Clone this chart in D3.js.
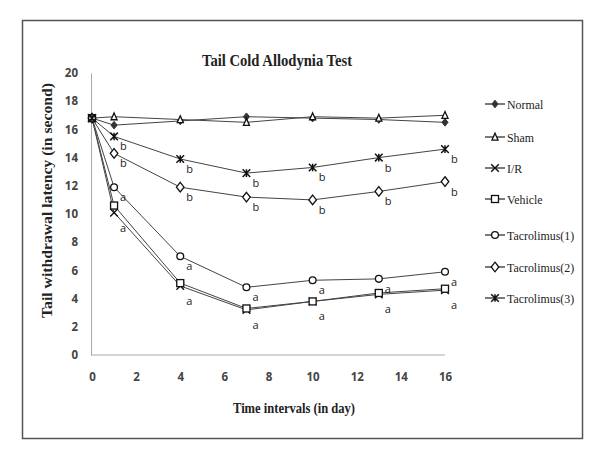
<!DOCTYPE html>
<html><head><meta charset="utf-8">
<script src="https://cdn.jsdelivr.net/npm/d3@7"></script>
<style>body{margin:0;background:#fff}svg{display:block}</style>
</head><body>
<svg id="c" width="600" height="467"></svg>
<script>
const days = [0, 1, 4, 7, 10, 13, 16];
const xTicks = [0, 2, 4, 6, 8, 10, 12, 14, 16];
const yTicks = [0, 2, 4, 6, 8, 10, 12, 14, 16, 18, 20];
const seriesNames = ["Normal", "Sham", "I/R", "Vehicle", "Tacrolimus(1)", "Tacrolimus(2)", "Tacrolimus(3)"];
const normal = [16.8, 16.3, 16.6, 16.9, 16.8, 16.7, 16.5];
const sham = [16.8, 16.9, 16.7, 16.5, 16.9, 16.8, 17.0];
const ir = [16.8, 10.1, 4.9, 3.2, 3.8, 4.3, 4.6];
const vehicle = [16.8, 10.6, 5.1, 3.3, 3.8, 4.4, 4.7];
const tac1 = [16.8, 11.9, 7.0, 4.8, 5.3, 5.4, 5.9];
const tac2 = [16.8, 14.3, 11.9, 11.2, 11.0, 11.6, 12.3];
const tac3 = [16.8, 15.5, 13.9, 12.9, 13.3, 14.0, 14.6];
const markers = ["fdiamond", "triangle", "x", "square", "circle", "diamond", "asterisk"];
const sigLetters = [null, null, "a", null, "a", "b", "b"];
const allValues = [normal, sham, ir, vehicle, tac1, tac2, tac3];

const svg = d3.select("#c");
const stroke = "#333";
svg.append("rect").attr("x", 22.5).attr("y", 20.5).attr("width", 560).attr("height", 418)
  .attr("fill", "none").attr("stroke", "#555").attr("stroke-width", 1.5);

const x = d3.scaleLinear().domain([0, 16]).range([92, 445]);
const y = d3.scaleLinear().domain([0, 20]).range([355, 73]);

const xAxis = svg.append("g").attr("transform", "translate(0,355)")
  .call(d3.axisBottom(x).tickValues(xTicks).tickSize(0).tickPadding(18));
xAxis.select(".domain").attr("stroke", "#aaa").attr("d", `M${x(0)-1},0H${x(16)}`);
xAxis.selectAll("text").attr("font-family", "Open Sans, sans-serif").attr("font-size", 11.5)
  .attr("font-weight", "bold").attr("fill", "#444");

const yAxis = svg.append("g").attr("transform", "translate(91,0)")
  .call(d3.axisLeft(y).tickValues(yTicks).tickSize(0).tickPadding(13));
yAxis.select(".domain").attr("stroke", "#aaa");
yAxis.selectAll("text").attr("font-family", "Open Sans, sans-serif").attr("font-size", 11.5)
  .attr("font-weight", "bold").attr("fill", "#444");

svg.append("text").attr("x", 202).attr("y", 66)
  .attr("font-family", "Liberation Serif, serif").attr("font-weight", "bold").attr("font-size", 17)
  .attr("textLength", 150).attr("lengthAdjust", "spacingAndGlyphs")
  .attr("fill", "#222").text("Tail Cold Allodynia Test");
svg.append("text").attr("x", 233).attr("y", 413)
  .attr("font-family", "Liberation Serif, serif").attr("font-weight", "bold").attr("font-size", 14)
  .attr("textLength", 122).attr("lengthAdjust", "spacingAndGlyphs")
  .attr("fill", "#222").text("Time intervals (in day)");
svg.append("text").attr("transform", "translate(52,318) rotate(-90)")
  .attr("font-family", "Liberation Serif, serif").attr("font-weight", "bold").attr("font-size", 15)
  .attr("textLength", 235).attr("lengthAdjust", "spacingAndGlyphs")
  .attr("fill", "#222").text("Tail withdrawal latency (in second)");

function drawMarker(g, type, cx, cy) {
  const s = 3.8;
  if (type === "fdiamond") {
    g.append("path").attr("d", `M${cx},${cy-s}L${cx+s*0.8},${cy}L${cx},${cy+s}L${cx-s*0.8},${cy}Z`).attr("fill", stroke).attr("stroke", stroke);
  } else if (type === "diamond") {
    g.append("path").attr("d", `M${cx},${cy-s-1}L${cx+s},${cy}L${cx},${cy+s+1}L${cx-s},${cy}Z`).attr("fill", "#fff").attr("stroke", "#111").attr("stroke-width", 1.3);
  } else if (type === "triangle") {
    g.append("path").attr("d", `M${cx},${cy-s}L${cx+s*0.8},${cy+s*0.8}L${cx-s*0.8},${cy+s*0.8}Z`).attr("fill", "#fff").attr("stroke", "#111").attr("stroke-width", 1.3);
  } else if (type === "square") {
    g.append("rect").attr("x", cx-3.5).attr("y", cy-3.5).attr("width", 7).attr("height", 7).attr("fill", "#fff").attr("stroke", "#111").attr("stroke-width", 1.3);
  } else if (type === "circle") {
    g.append("circle").attr("cx", cx).attr("cy", cy).attr("r", 3.4).attr("fill", "#fff").attr("stroke", "#111").attr("stroke-width", 1.3);
  } else if (type === "x") {
    g.append("path").attr("d", `M${cx-s},${cy-s}L${cx+s},${cy+s}M${cx-s},${cy+s}L${cx+s},${cy-s}`).attr("stroke", "#111").attr("stroke-width", 1.4);
  } else if (type === "asterisk") {
    g.append("path").attr("d", `M${cx-s},${cy-s}L${cx+s},${cy+s}M${cx-s},${cy+s}L${cx+s},${cy-s}M${cx},${cy-s}L${cx},${cy+s}`).attr("stroke", "#111").attr("stroke-width", 1.5);
  }
}

const line = d3.line().x((d, i) => x(days[i])).y(d => y(d));
const plot = svg.append("g");
allValues.forEach((vals) => {
  plot.append("path").datum(vals).attr("d", line).attr("fill", "none").attr("stroke", "#444").attr("stroke-width", 1);
});
allValues.forEach((vals, k) => {
  const g = plot.append("g");
  vals.forEach((v, i) => drawMarker(g, markers[k], x(days[i]), y(v)));
});
allValues.forEach((vals, k) => {
  const L = sigLetters[k];
  if (!L) return;
  vals.forEach((v, i) => {
    if (i === 0) return;
    plot.append("text").attr("x", x(days[i]) + 6).attr("y", y(v) + (k === 2 ? 19 : 14))
      .attr("font-family", "Open Sans, sans-serif").attr("font-size", 11).attr("fill", "#222").text(L);
  });
});

const legY = [104, 137, 168, 199, 235, 267, 298];
seriesNames.forEach((n, k) => {
  const g = svg.append("g");
  g.append("line").attr("x1", 485).attr("x2", 505).attr("y1", legY[k]).attr("y2", legY[k]).attr("stroke", "#222").attr("stroke-width", 1.2);
  drawMarker(g, markers[k], 495, legY[k]);
  const t = g.append("text").attr("x", 507).attr("y", legY[k] + 4.5).attr("font-family", "Liberation Serif, serif")
    .attr("font-size", 13.5).attr("fill", "#222").text(n);
  const w = t.node().getComputedTextLength();
  t.attr("textLength", w * 0.88).attr("lengthAdjust", "spacingAndGlyphs");
});
</script>
</body></html>
